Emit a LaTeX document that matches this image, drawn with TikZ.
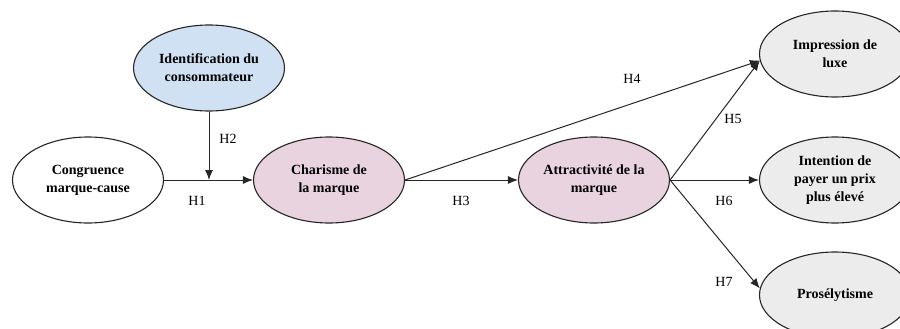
\documentclass[tikz,border=0pt]{standalone}
\usepackage{fontspec}
\setmainfont{Liberation Serif}
\usepackage{tikz}
\usetikzlibrary{arrows.meta}
\usetikzlibrary{shapes.geometric}

\definecolor{idblue}{RGB}{207,225,242}
\definecolor{brandpink}{RGB}{233,211,222}
\definecolor{outgray}{RGB}{236,236,236}

\tikzset{
	construct/.style={ellipse, draw=black!85, line width=1.1pt, minimum width=151pt, minimum height=86pt,
		align=center, inner sep=0pt, font=\fontsize{14}{18}\selectfont\bfseries},
	hyp/.style={draw=black!85, line width=1pt, -{Latex[length=10pt,width=8pt]}},
	hlabel/.style={font=\fontsize{14}{16}\selectfont}
}

\begin{document}
\begin{tikzpicture}[x=1pt,y=-1pt]
	\useasboundingbox (0,0) rectangle (900,329);
	% constructs
	\node[construct, fill=white] (congruence) at (88,180) {Congruence\\marque-cause};
	\node[construct, fill=idblue] (identification) at (209,68) {Identification du\\consommateur};
	\node[construct, fill=brandpink] (charisme) at (329,180) {Charisme de\\la marque};
	\node[construct, fill=brandpink] (attractivite) at (594,180) {Attractivit\'e de la\\marque};
	\node[construct, fill=outgray] (luxe) at (835,54) {Impression de\\luxe};
	\node[construct, fill=outgray] (intention) at (835,180) {Intention de\\payer un prix\\plus \'elev\'e};
	\node[construct, fill=outgray] (proselytisme) at (835,295) {Pros\'elytisme};
	% hypotheses
	\coordinate (junction) at (identification.south |- congruence.east);
	\draw[hyp] (congruence.east) -- (charisme.west);
	\draw[hyp] (identification.south) -- (junction);
	\draw[hyp] (charisme.east) -- (attractivite.west);
	\draw[hyp] (charisme.east) -- (luxe.185);
	\draw[hyp] (attractivite.east) -- (luxe.185);
	\draw[hyp] (attractivite.east) -- (intention.west);
	\draw[hyp] (attractivite.east) -- (proselytisme.175);
	% labels
	\node[hlabel] (h1) at (197,201) {H1};
	\node[hlabel] (h2) at (228,139) {H2};
	\node[hlabel] (h3) at (461,201) {H3};
	\node[hlabel] (h4) at (632,79) {H4};
	\node[hlabel] (h5) at (733,119) {H5};
	\node[hlabel] (h6) at (724,201) {H6};
	\node[hlabel] (h7) at (724,282) {H7};
\end{tikzpicture}
\end{document}
